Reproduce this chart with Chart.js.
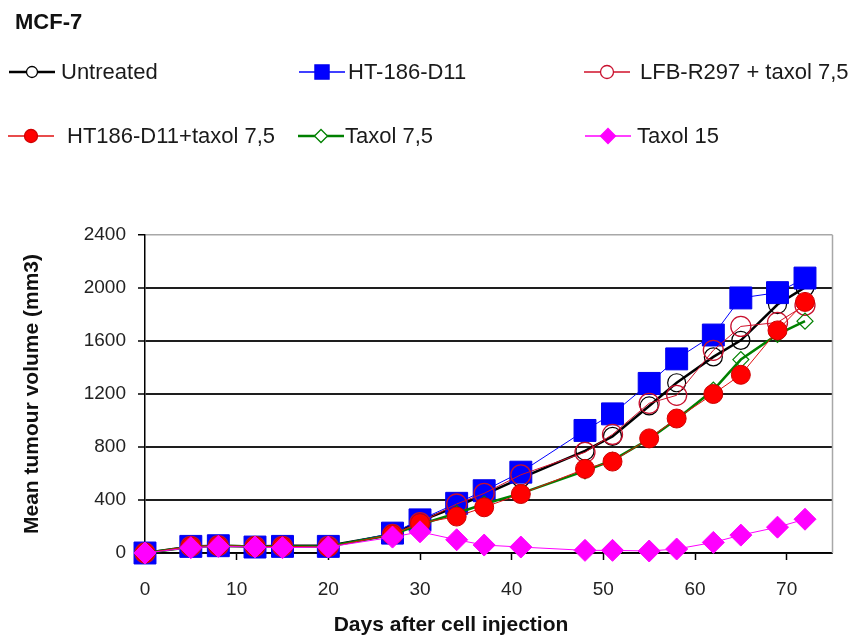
<!DOCTYPE html>
<html>
<head>
<meta charset="utf-8">
<script src="https://cdn.jsdelivr.net/npm/chart.js@4/dist/chart.umd.min.js"></script>
<style>
  html, body { margin: 0; padding: 0; background: #ffffff; }
  #wrap { width: 849px; height: 638px; position: relative; }
</style>
</head>
<body>
<div id="wrap"><canvas id="c" width="849" height="638"></canvas></div>
<script>
// ---- data ----
const chartTitle = 'MCF-7';
const xTitle = 'Days after cell injection';
const yTitle = 'Mean tumour volume (mm3)';
const days = [0, 5, 8, 12, 15, 20, 27, 30, 34, 37, 41, 48, 51, 55, 58, 62, 65, 69, 72];
const seriesNames = ['Untreated', 'HT-186-D11', 'LFB-R297 + taxol 7,5', 'HT186-D11+taxol 7,5', 'Taxol 7,5', 'Taxol 15'];
const untreated   = [0, 50, 55, 50, 55, 55, 140, 240, 350, 440, 565, 770, 880, 1110, 1285, 1480, 1605, 1875, 2005];
const ht186       = [0, 50, 55, 45, 50, 50, 150, 250, 375, 470, 610, 925, 1050, 1280, 1465, 1645, 1925, 1965, 2075];
const lfbTaxol    = [0, 50, 55, 50, 50, 50, 140, 230, 370, 450, 590, 760, 895, 1130, 1190, 1530, 1710, 1740, 1870];
const ht186Taxol  = [0, 50, 55, 50, 50, 45, 140, 225, 275, 345, 445, 635, 690, 865, 1015, 1200, 1345, 1680, 1895];
const taxol75     = [0, 45, 55, 50, 50, 50, 140, 215, 300, 370, 450, 620, 700, 860, 1010, 1230, 1460, 1650, 1750];
const taxol15     = [0, 40, 50, 45, 40, 45, 120, 160, 100, 60, 45, 20, 20, 15, 30, 80, 135, 195, 255];
const xTicks = [0, 10, 20, 30, 40, 50, 60, 70];
const yTicks = [0, 400, 800, 1200, 1600, 2000, 2400];

// ---- styles ----
const FONT = '"Liberation Sans", Arial, sans-serif';
const styles = [
  { line: '#000000', lw: 2.5, style: 'circle',  r: 9,    fill: 'rgba(0,0,0,0)', border: '#000000', bw: 1.2, order: 6,
    lg: { x: 32,  y: 72,  tx: 61,  style: 'circle', r: 5.5, lw: 2.5, fill: '#ffffff' } },
  { line: '#0000ff', lw: 1,   style: 'rect',    r: 15.5, fill: '#0000ff', border: '#0000ee', bw: 1, order: 5,
    lg: { x: 322, y: 72,  tx: 348, style: 'rect', r: 10, lw: 1.5, fill: '#0000ff' } },
  { line: '#d0102a', lw: 1,   style: 'circle',  r: 10,   fill: 'rgba(0,0,0,0)', border: '#c8102e', bw: 1.3, order: 4,
    lg: { x: 607, y: 72,  tx: 640, style: 'circle', r: 6.5, lw: 1.5, fill: '#ffffff' } },
  { line: '#e01010', lw: 1,   style: 'circle',  r: 9.5,  fill: '#ff0000', border: '#d00000', bw: 1, order: 2,
    lg: { x: 31,  y: 136, tx: 67,  style: 'circle', r: 6.5, lw: 1.5, fill: '#ff0000' } },
  { line: '#008000', lw: 2.5, style: 'rectRot', r: 8,    fill: 'rgba(255,255,255,0)', border: '#008000', bw: 1.2, order: 3,
    lg: { x: 321, y: 136, tx: 345, style: 'rectRot', r: 6.5, lw: 2.5, fill: '#ffffff' } },
  { line: '#ff00ff', lw: 1,   style: 'rectRot', r: 11,   fill: '#ff00ff', border: '#ff00ff', bw: 1, order: 1,
    lg: { x: 608, y: 136, tx: 637, style: 'rectRot', r: 7.5, lw: 1.5, fill: '#ff00ff' } }
];
const values = [untreated, ht186, lfbTaxol, ht186Taxol, taxol75, taxol15];

const datasets = seriesNames.map((name, i) => ({
  label: name,
  data: days.map((d, j) => ({ x: d, y: values[i][j] })),
  borderColor: styles[i].line,
  borderWidth: styles[i].lw,
  pointStyle: styles[i].style,
  pointRadius: styles[i].r,
  pointHoverRadius: styles[i].r,
  pointBackgroundColor: styles[i].fill,
  pointBorderColor: styles[i].border,
  pointBorderWidth: styles[i].bw,
  backgroundColor: styles[i].fill,
  showLine: true,
  fill: false,
  tension: 0,
  clip: false,
  order: styles[i].order
}));

function drawMarker(ctx, style, x, y, r, fill, stroke, lw) {
  ctx.beginPath();
  if (style === 'circle') {
    ctx.arc(x, y, r, 0, Math.PI * 2);
  } else if (style === 'rect') {
    ctx.rect(x - r * Math.SQRT1_2, y - r * Math.SQRT1_2, 2 * r * Math.SQRT1_2, 2 * r * Math.SQRT1_2);
  } else {
    ctx.moveTo(x - r, y); ctx.lineTo(x, y - r); ctx.lineTo(x + r, y); ctx.lineTo(x, y + r); ctx.closePath();
  }
  ctx.fillStyle = fill; ctx.fill();
  ctx.strokeStyle = stroke; ctx.lineWidth = lw; ctx.stroke();
}

const excelLegend = {
  id: 'excelLegend',
  afterDraw(chart) {
    const ctx = chart.ctx;
    const ca = chart.chartArea;
    ctx.save();
    // plot area border (right side)
    ctx.strokeStyle = '#a8a8a8'; ctx.lineWidth = 1.5;
    ctx.beginPath(); ctx.moveTo(ca.right, ca.top); ctx.lineTo(ca.right, ca.bottom); ctx.stroke();
    // legend
    chart.data.datasets.forEach((ds, i) => {
      const lg = styles[i].lg;
      ctx.strokeStyle = styles[i].line; ctx.lineWidth = lg.lw;
      ctx.beginPath(); ctx.moveTo(lg.x - 23, lg.y); ctx.lineTo(lg.x + 23, lg.y); ctx.stroke();
      drawMarker(ctx, lg.style, lg.x, lg.y, lg.r, lg.fill, styles[i].border, 1.3);
      ctx.fillStyle = '#1a1a1a';
      ctx.font = '22px ' + FONT;
      ctx.textAlign = 'left'; ctx.textBaseline = 'middle';
      ctx.fillText(ds.label, lg.tx, lg.y + 1);
    });
    // x axis title
    ctx.fillStyle = '#111';
    ctx.font = 'bold 21px ' + FONT;
    ctx.textAlign = 'center'; ctx.textBaseline = 'middle';
    ctx.fillText(xTitle, 451, 625);
    ctx.restore();
  }
};

new Chart(document.getElementById('c'), {
  type: 'scatter',
  data: { datasets },
  plugins: [excelLegend],
  options: {
    responsive: false,
    animation: false,
    events: [],
    layout: { padding: { left: 15, right: 7, top: 0, bottom: 0 } },
    plugins: {
      legend: { display: false },
      tooltip: { enabled: false },
      title: {
        display: true, text: chartTitle, align: 'start', color: '#111',
        font: { family: FONT, size: 22, weight: 'bold', lineHeight: 1.2 },
        padding: { top: 10, bottom: 198.6 }
      }
    },
    scales: {
      x: {
        type: 'linear', min: 0, max: 75,
        afterFit(scale) { scale.height = 85; },
        afterBuildTicks(scale) { scale.ticks = xTicks.map(v => ({ value: v })); },
        ticks: { color: '#222', font: { family: FONT, size: 19 }, padding: 18, maxRotation: 0,
                 callback: v => String(v) },
        grid: { drawOnChartArea: false, drawTicks: true, tickLength: 7, tickColor: '#000', tickWidth: 1.5 },
        border: { display: true, color: '#000', width: 1.5 },
        title: { display: false }
      },
      y: {
        type: 'linear', min: 0, max: 2400,
        afterFit(scale) { scale.width = 130; },
        afterBuildTicks(scale) { scale.ticks = yTicks.map(v => ({ value: v })); },
        ticks: { color: '#222', font: { family: FONT, size: 19 }, padding: 12,
                 callback: v => String(v) },
        grid: {
          drawTicks: true, tickLength: 7, tickColor: '#000', tickWidth: 1.5,
          color: ctx => (ctx.tick && ctx.tick.value === 2400) ? '#a8a8a8' : '#1e1e1e',
          lineWidth: ctx => (ctx.tick && ctx.tick.value === 2400) ? 1.5 : 2
        },
        border: { display: true, color: '#000', width: 1.5 },
        title: {
          display: true, text: yTitle, color: '#111',
          font: { family: FONT, size: 21, weight: 'bold', lineHeight: 1.2 },
          padding: { top: 5, bottom: 0 }
        }
      }
    }
  }
});
</script>
</body>
</html>
